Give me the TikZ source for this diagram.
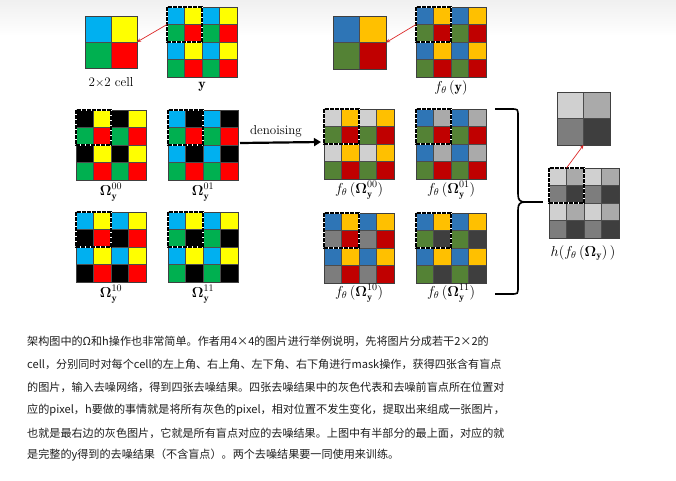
\documentclass[tikz,border=0pt]{standalone}
\usepackage{fontspec}
\usepackage{bm}
\usetikzlibrary{arrows.meta}
\newfontfamily\cjk{Noto Sans CJK SC}
\definecolor{cb}{RGB}{0,176,240}
\definecolor{cy}{RGB}{255,255,0}
\definecolor{cg}{RGB}{0,176,80}
\definecolor{cr}{RGB}{255,0,0}
\definecolor{db}{RGB}{46,117,182}
\definecolor{dy}{RGB}{255,192,0}
\definecolor{dg}{RGB}{84,130,53}
\definecolor{dr}{RGB}{192,0,0}
\definecolor{ga}{RGB}{208,208,208}
\definecolor{gb}{RGB}{170,170,170}
\definecolor{gc}{RGB}{125,125,125}
\definecolor{gd}{RGB}{62,62,62}
\definecolor{kk}{RGB}{0,0,0}
\definecolor{arr}{RGB}{220,40,40}
\definecolor{txt}{RGB}{30,30,30}
\tikzset{
  gridline/.style={draw=black!70, line width=0.5pt},
  frame/.style={draw=black!75, line width=0.7pt, inner sep=0pt, outer sep=0pt},
  dashbox/.style={draw=black, line width=1.5pt, dash pattern=on 3.6pt off 1.4pt},
  redarrow/.style={draw=arr, line width=0.7pt, -{Stealth[length=4pt,width=3.5pt]}},
  lab/.style={inner sep=0pt, font=\fontsize{14}{16}\selectfont},
  para/.style={inner sep=0pt, anchor=west, text=txt, font=\cjk\fontsize{11.1}{13}\selectfont},
}
% 4x4 grid: name, x, y, cell size, 16 colours
\newcommand\fourgrid[5]{%
  \foreach \cc [count=\i from 0] in {#5} {
    \pgfmathtruncatemacro\rr{div(\i,4)}
    \pgfmathtruncatemacro\kc{mod(\i,4)}
    \fill[\cc] ({#2+\kc*#4},{#3+\rr*#4}) rectangle ++(#4,#4);
  }
  \foreach \j in {1,2,3} {
    \draw[gridline] ({#2+\j*#4},#3) -- ++(0,4*#4);
    \draw[gridline] (#2,{#3+\j*#4}) -- ++(4*#4,0);
  }
  \node[frame, minimum size=4*#4 pt, anchor=north west] (#1) at (#2,#3) {};
  \draw[white, line width=1.5pt] (#2,#3) rectangle ++(2*#4,2*#4);
  \draw[dashbox] (#2,#3) rectangle ++(2*#4,2*#4);
  \coordinate (#1-dn) at ({#2+#4},#3);
  \coordinate (#1-dw) at (#2,{#3+#4});
}
% 2x2 grid: name, x, y, cell size, 4 colours
\newcommand\twogrid[8]{%
  \fill[#5] (#2,#3) rectangle ++(#4,#4);
  \fill[#6] ({#2+#4},#3) rectangle ++(#4,#4);
  \fill[#7] (#2,{#3+#4}) rectangle ++(#4,#4);
  \fill[#8] ({#2+#4},{#3+#4}) rectangle ++(#4,#4);
  \draw[gridline] ({#2+#4},#3) -- ++(0,2*#4);
  \draw[gridline] (#2,{#3+#4}) -- ++(2*#4,0);
  \node[frame, minimum size=2*#4 pt, anchor=north west] (#1) at (#2,#3) {};
}
\begin{document}
\begin{tikzpicture}[x=1pt,y=-1pt]
\fill[white] (0,0) rectangle (676,480);
\useasboundingbox (0,0) rectangle (676,480);
\shade[top color=black!6, bottom color=white] (0,0) rectangle (676,36);

% ---- original colours ----
\twogrid{c2}{85}{16}{26}{cb}{cy}{cg}{cr}
\fourgrid{yg}{167}{7}{17.5}{cb,cy,cb,cy,cg,cr,cg,cr,cb,cy,cb,cy,cg,cr,cg,cr}
\draw[redarrow] (yg-dw) -- (c2.east);
\node[lab, font=\fontsize{13}{15}\selectfont] (l2) at (111,82) {2$\times$2 cell};
\node[lab] (ly) at (202,87) {$\mathbf{y}$};

\fourgrid{o00}{76}{110}{17.5}{kk,cy,kk,cy,cg,cr,cg,cr,kk,cy,kk,cy,cg,cr,cg,cr}
\fourgrid{o01}{168}{110}{17.5}{cb,kk,cb,kk,cg,cr,cg,cr,cb,kk,cb,kk,cg,cr,cg,cr}
\fourgrid{o10}{76}{212}{17.5}{cb,cy,cb,cy,kk,cr,kk,cr,cb,cy,cb,cy,kk,cr,kk,cr}
\fourgrid{o11}{168}{212}{17.5}{cb,cy,cb,cy,cg,kk,cg,kk,cb,cy,cb,cy,cg,kk,cg,kk}
\node[lab] (lo00) at (111,192) {$\bm{\Omega}_{\mathbf{y}}^{00}$};
\node[lab] (lo01) at (203,192) {$\bm{\Omega}_{\mathbf{y}}^{01}$};
\node[lab] (lo10) at (111,294) {$\bm{\Omega}_{\mathbf{y}}^{10}$};
\node[lab] (lo11) at (203,294) {$\bm{\Omega}_{\mathbf{y}}^{11}$};

% ---- denoised ----
\twogrid{fc2}{333}{16}{26.5}{db}{dy}{dg}{dr}
\fourgrid{fy}{416}{7}{17.5}{db,dy,db,dy,dg,dr,dg,dr,db,dy,db,dy,dg,dr,dg,dr}
\draw[redarrow] (fy-dw) -- (fc2.east);
\node[lab] (lfy) at (451,88) {$f_\theta\,(\mathbf{y})$};

\fourgrid{f00}{324}{109}{17.5}{ga,dy,ga,dy,dg,dr,dg,dr,ga,dy,ga,dy,dg,dr,dg,dr}
\fourgrid{f01}{416}{109}{17.5}{db,gb,db,gb,dg,dr,dg,dr,db,gb,db,gb,dg,dr,dg,dr}
\fourgrid{f10}{324}{213}{17.5}{db,dy,db,dy,gc,dr,gc,dr,db,dy,db,dy,gc,dr,gc,dr}
\fourgrid{f11}{416}{213}{17.5}{db,dy,db,dy,dg,gd,dg,gd,db,dy,db,dy,dg,gd,dg,gd}
\node[lab] (lf00) at (359,190) {$f_\theta\,(\bm{\Omega}_{\mathbf{y}}^{00})$};
\node[lab] (lf01) at (451,190) {$f_\theta\,(\bm{\Omega}_{\mathbf{y}}^{01})$};
\node[lab] (lf10) at (359,293) {$f_\theta\,(\bm{\Omega}_{\mathbf{y}}^{10})$};
\node[lab] (lf11) at (451,293) {$f_\theta\,(\bm{\Omega}_{\mathbf{y}}^{11})$};

% ---- denoising arrow ----
\draw[line width=2.2pt, -{Triangle[length=7pt,width=8pt]}] ([xshift=2pt,yshift=2pt]o01.east) -- ([xshift=-3pt,yshift=2pt]f00.west);
\node[lab, font=\fontsize{13}{15}\selectfont] (dn) at (276,131) {denoising};

% ---- brace ----
\draw[line width=1.6pt] (495,109) -- (511,109) .. controls (518,109) .. (518,116) -- (518,194)
  .. controls (518,200) and (520,202) .. (525,202)
  .. controls (520,202) and (518,204) .. (518,210) -- (518,287)
  .. controls (518,294) .. (511,294) -- (495,294);
\coordinate (bt) at (525,202);
\coordinate (be) at (543,202);
\draw[line width=1.6pt] (bt) -- (be);

% ---- gray result ----
\twogrid{g2}{557}{92}{26.5}{ga}{gb}{gc}{gd}
\fourgrid{hg}{549}{168}{17.5}{ga,gb,ga,gb,gc,gd,gc,gd,ga,gb,ga,gb,gc,gd,gc,gd}
\draw[redarrow] (hg-dn) -- (g2.south);
\node[lab] (lh) at (583,253) {$h\Big(f_\theta\,(\bm{\Omega}_{\mathbf{y}})\,\Big)$};

% ---- paragraph ----
\node[para] (t1) at (27,341) {架构图中的Ω和h操作也非常简单。作者用4×4的图片进行举例说明，先将图片分成若干2×2的};
\node[para] (t2) at (27,364) {cell，分别同时对每个cell的左上角、右上角、左下角、右下角进行mask操作，获得四张含有盲点};
\node[para] (t3) at (27,387) {的图片，输入去噪网络，得到四张去噪结果。四张去噪结果中的灰色代表和去噪前盲点所在位置对};
\node[para] (t4) at (27,410) {应的pixel，h要做的事情就是将所有灰色的pixel，相对位置不发生变化，提取出来组成一张图片，};
\node[para] (t5) at (27,433) {也就是最右边的灰色图片，它就是所有盲点对应的去噪结果。上图中有半部分的最上面，对应的就};
\node[para] (t6) at (27,455) {是完整的y得到的去噪结果（不含盲点）。两个去噪结果要一同使用来训练。};
\end{tikzpicture}
\end{document}
